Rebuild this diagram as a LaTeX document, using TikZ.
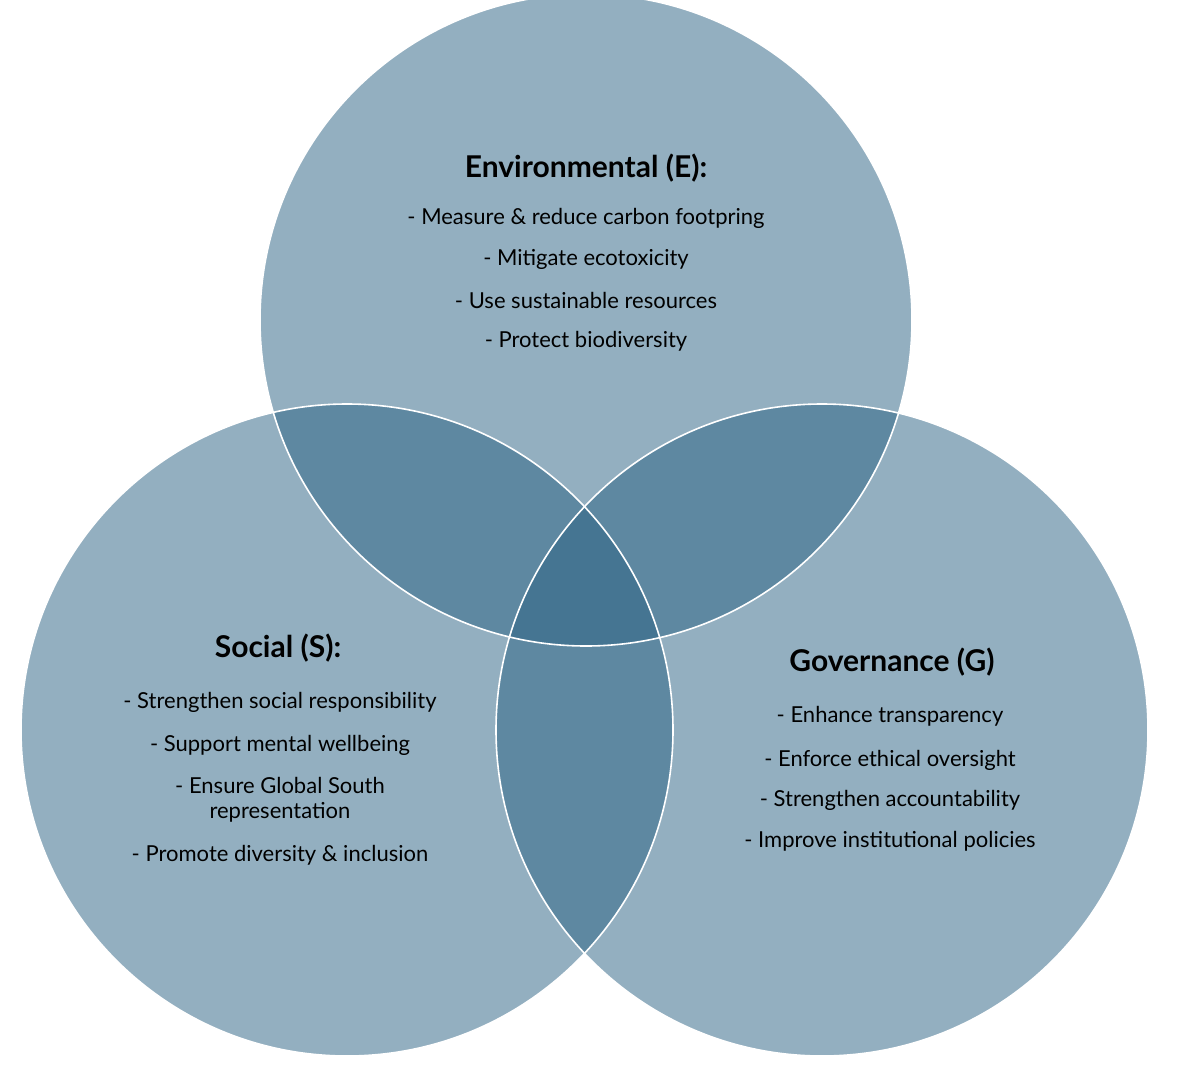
\documentclass[tikz,border=0pt]{standalone}
\usepackage{fontspec}
\setmainfont{Lato}
\definecolor{esgblue}{RGB}{44,99,132}
\tikzset{
  pillar/.style={fill=esgblue, fill opacity=0.51, draw=none},
  rim/.style={draw=white, line width=1.6pt},
  heading/.style={font=\fontsize{30}{34}\selectfont\bfseries, text=black},
  item/.style={font=\fontsize{22}{25}\selectfont, text=black, align=center}
}
\begin{document}
\begin{tikzpicture}[x=1pt,y=-1pt]
  \useasboundingbox (0,0) rectangle (1200,1074);
  \coordinate (env) at (586,320);
  \coordinate (soc) at (347,730);
  \coordinate (gov) at (822,730);
  \foreach \c in {env,soc,gov}{
    \fill[pillar] (\c) circle (326);
  }
  \foreach \c in {env,soc,gov}{
    \draw[rim] (\c) circle (326);
  }
  % Environmental
  \node[heading] (eT) at (586,168) {Environmental (E):};
  \foreach \i/\y/\w in {1/218/{- Measure \& reduce carbon footpring}, 2/259/{- Mitigate ecotoxicity}, 3/300/{- Use sustainable resources}, 4/341/{- Protect biodiversity}}{
    \node[item] (e\i) at (586,\y) {\w};
  }
  % Social
  \node[heading] (sT) at (278,648) {Social (S):};
  \foreach \i/\y/\w in {1/702/{- Strengthen social responsibility}, 2/745/{- Support mental wellbeing}, 3/800/{- Ensure Global South\\representation}, 4/855/{- Promote diversity \& inclusion}}{
    \node[item] (s\i) at (280,\y) {\w};
  }
  % Governance
  \node[heading] (gT) at (892,662) {Governance (G)};
  \foreach \i/\y/\w in {1/716/{- Enhance transparency}, 2/760/{- Enforce ethical oversight}, 3/800/{- Strengthen accountability}, 4/841/{- Improve institutional policies}}{
    \node[item] (g\i) at (890,\y) {\w};
  }
\end{tikzpicture}
\end{document}
